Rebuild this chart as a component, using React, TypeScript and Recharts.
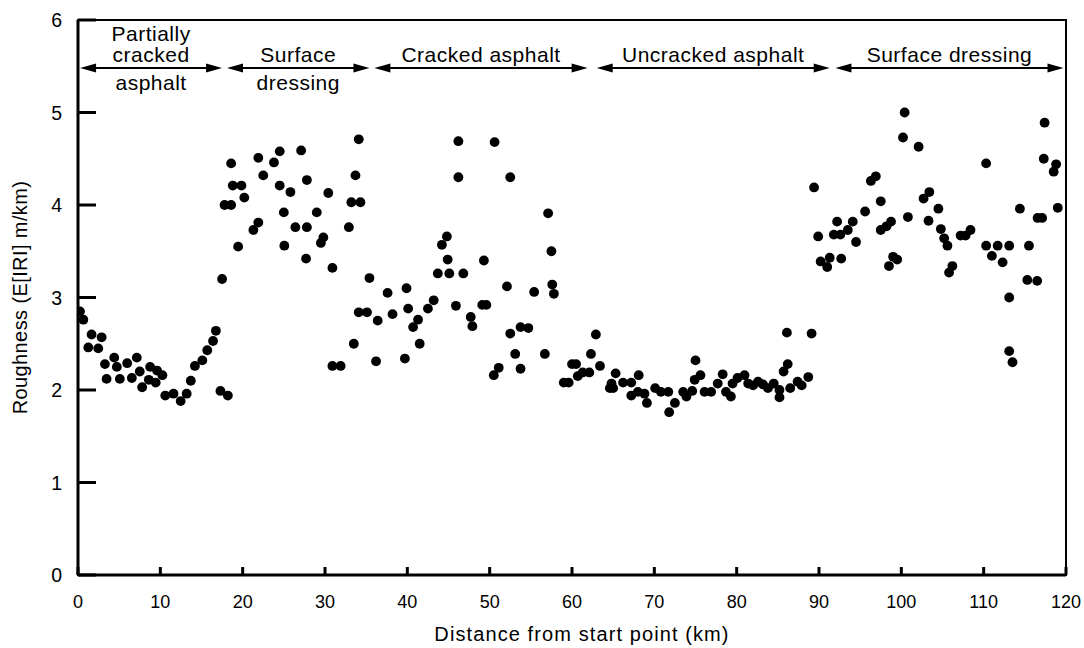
import { ScatterChart, Scatter, XAxis, YAxis, ReferenceLine, ReferenceArea } from "recharts";

// Roughness survey points
const distanceKm = [
  0.24, 0.65, 1.25, 1.65, 2.46, 2.87, 3.27, 3.47, 4.4, 4.72, 5.08, 5.97, 6.54, 7.14, 7.5, 7.79,
  8.6, 8.76, 9.44, 9.6, 10.25, 10.6, 11.6, 12.47, 13.2, 13.7, 14.2, 15.1, 15.7, 16.4, 16.75,
  17.3, 17.5, 17.8, 18.2, 18.6, 18.6, 18.8, 19.45, 19.85, 20.2, 21.3, 21.9, 21.9, 22.5, 23.8,
  24.5, 24.5, 25.0, 25.06, 25.8, 26.4, 27.1, 27.7, 27.8, 27.8, 29.0, 29.5, 29.8, 30.4, 30.9,
  30.9, 31.9, 32.9, 33.2, 33.5, 33.7, 34.1, 34.1, 34.3, 35.1, 35.4,
  36.2, 36.4, 37.6, 38.2, 39.7, 39.9, 40.1, 40.7, 41.3, 41.5, 42.5, 43.2, 43.7, 44.2, 44.8,
  44.9, 45.1, 45.9, 46.2, 46.2, 46.8, 47.7, 47.9, 49.1, 49.3, 49.6, 50.5, 50.6, 51.1, 52.1,
  52.5, 52.5, 53.1, 53.75, 53.75, 54.7, 55.4, 56.7, 57.1, 57.5, 57.6, 57.8, 59.0, 59.6, 60.0,
  60.5, 60.7, 61.3, 62.1, 62.3, 62.9, 63.4, 64.6, 64.8, 65.0, 65.3,
  66.2, 67.2, 67.2, 68.0, 68.1, 68.8, 69.1, 70.1, 70.8, 71.7, 71.8, 72.5, 73.5, 73.9, 74.6,
  74.9, 75.0, 75.6, 76.1, 76.9, 77.7, 78.3, 78.7, 79.3, 79.5, 80.1, 80.95, 81.4, 82.0, 82.6,
  83.2, 83.8, 84.5, 85.2, 85.2, 85.7, 86.1, 86.2, 86.5, 87.4, 87.9, 88.7, 89.1, 89.4, 89.9,
  90.2, 91.0, 91.3, 91.8, 92.2, 92.6, 92.7, 93.5, 94.1, 94.5,
  95.6, 96.3, 96.9, 97.5, 97.5, 98.2, 98.5, 98.75, 99.0, 99.5, 100.2, 100.4, 100.8, 102.1,
  102.7, 103.3, 103.4, 104.5, 104.8, 105.2, 105.6, 105.8, 106.2, 107.2, 107.8, 108.4, 110.3,
  110.3, 111.0, 111.7, 112.3, 113.1, 113.1, 113.1, 113.5, 114.4, 115.3, 115.5, 116.5, 116.55,
  117.1, 117.3, 117.4, 118.5, 118.8, 119.0,
];

const roughness = [
  2.85, 2.76, 2.46, 2.6, 2.45, 2.57, 2.28, 2.12, 2.35, 2.25, 2.12, 2.29, 2.13, 2.35, 2.2, 2.03,
  2.11, 2.25, 2.08, 2.21, 2.16, 1.94, 1.96, 1.88, 1.96, 2.1, 2.26, 2.32, 2.43, 2.53, 2.64,
  1.99, 3.2, 4.0, 1.94, 4.0, 4.45, 4.21, 3.55, 4.21, 4.08, 3.73, 3.81, 4.51, 4.32, 4.46,
  4.58, 4.21, 3.92, 3.56, 4.14, 3.76, 4.59, 3.42, 4.27, 3.76, 3.92, 3.59, 3.65, 4.13, 3.32,
  2.26, 2.26, 3.76, 4.03, 2.5, 4.32, 4.71, 2.84, 4.03, 2.84, 3.21,
  2.31, 2.75, 3.05, 2.82, 2.34, 3.1, 2.88, 2.68, 2.76, 2.5, 2.88, 2.97, 3.26, 3.57, 3.66,
  3.41, 3.26, 2.91, 4.69, 4.3, 3.26, 2.79, 2.69, 2.92, 3.4, 2.92, 2.16, 4.68, 2.24, 3.12,
  4.3, 2.61, 2.39, 2.23, 2.68, 2.67, 3.06, 2.39, 3.91, 3.5, 3.14, 3.04, 2.08, 2.08, 2.28,
  2.28, 2.15, 2.19, 2.19, 2.39, 2.6, 2.26, 2.02, 2.07, 2.02, 2.18,
  2.08, 2.08, 1.94, 1.98, 2.16, 1.96, 1.86, 2.02, 1.98, 1.98, 1.76, 1.86, 1.98, 1.93, 1.99,
  2.11, 2.32, 2.16, 1.98, 1.98, 2.07, 2.17, 1.98, 1.93, 2.07, 2.13, 2.16, 2.07, 2.05, 2.09,
  2.06, 2.02, 2.07, 1.92, 2.0, 2.2, 2.62, 2.28, 2.02, 2.09, 2.05, 2.14, 2.61, 4.19, 3.66,
  3.39, 3.33, 3.43, 3.68, 3.82, 3.68, 3.42, 3.73, 3.82, 3.6,
  3.93, 4.26, 4.31, 4.04, 3.73, 3.77, 3.34, 3.82, 3.44, 3.41, 4.73, 5.0, 3.87, 4.63,
  4.07, 3.83, 4.14, 3.96, 3.74, 3.64, 3.56, 3.27, 3.34, 3.67, 3.67, 3.73, 4.45,
  3.56, 3.45, 3.56, 3.38, 3.56, 3.0, 2.42, 2.3, 3.96, 3.19, 3.56, 3.18, 3.86,
  3.86, 4.5, 4.89, 4.36, 4.44, 3.97,
];

const xTicks = [0, 10, 20, 30, 40, 50, 60, 70, 80, 90, 100, 110, 120];
const yTicks = [0, 1, 2, 3, 4, 5, 6];

// surface type sections shown as double arrows along the top
const sectionStart = [0.25, 18.1, 36.0, 63.0, 92.0];
const sectionEnd = [17.5, 35.4, 61.9, 91.3, 119.7];
const labelsAbove = [["cracked", "Partially"], ["Surface"], ["Cracked asphalt"], ["Uncracked asphalt"], ["Surface dressing"]];
const labelsBelow = [["asphalt"], ["dressing"], [], [], []];
const arrowLevel = 5.48;

const points = distanceKm.map((d, i) => ({ d, r: roughness[i] }));

const FONT = "'Liberation Sans', Arial, Helvetica, sans-serif";

function YTick({ x, y, payload }: any) {
  return (
    <g>
      <line x1={x} x2={x + 18} y1={y} y2={y} stroke="#000" strokeWidth={3} />
      <text x={x - 16} y={y + 7} textAnchor="end" fontSize={19.5} fontFamily={FONT} fill="#000">
        {payload.value}
      </text>
    </g>
  );
}

function XTick({ x, y, payload }: any) {
  return (
    <g>
      <line x1={x} x2={x} y1={y} y2={y - 8} stroke="#000" strokeWidth={3} />
      <text x={x} y={y + 33} textAnchor="middle" fontSize={18} fontFamily={FONT} fill="#000">
        {payload.value}
      </text>
    </g>
  );
}

function sectionArrow(i: number) {
  return (p: any) => {
    const { x1, x2, y1 } = p;
    const cx = (x1 + x2) / 2;
    const head = 16;
    const hw = 4.5;
    const txt = { textAnchor: "middle" as const, fontSize: 21, letterSpacing: 0.5, fontFamily: FONT, fill: "#000" };
    return (
      <g>
        <line x1={x1 + head - 2} x2={x2 - head + 2} y1={y1} y2={y1} stroke="#000" strokeWidth={2} />
        <polygon points={`${x1},${y1} ${x1 + head},${y1 - hw} ${x1 + head},${y1 + hw}`} fill="#000" />
        <polygon points={`${x2},${y1} ${x2 - head},${y1 - hw} ${x2 - head},${y1 + hw}`} fill="#000" />
        {labelsAbove[i].map((t, k) => (
          <text key={"a" + k} x={cx} y={y1 - 6 - k * 21} {...txt}>
            {t}
          </text>
        ))}
        {labelsBelow[i].map((t, k) => (
          <text key={"b" + k} x={cx} y={y1 + 22 + k * 21} {...txt}>
            {t}
          </text>
        ))}
      </g>
    );
  };
}

export default function App() {
  return (
    <div style={{ position: "absolute", left: 0, top: 0, background: "#fff" }}>
      <ScatterChart width={1084} height={648} margin={{ top: 20, right: 18, bottom: 0, left: 0 }}>
        <XAxis
          type="number"
          dataKey="d"
          domain={[0, 120]}
          ticks={xTicks}
          interval={0}
          height={73}
          tickSize={0}
          tickMargin={0}
          tickLine={false}
          tick={<XTick />}
          axisLine={{ stroke: "#000", strokeWidth: 3 }}
          allowDataOverflow
          label={{
            value: "Distance from start point (km)",
            position: "insideBottom",
            offset: 7,
            dx: 10,
            style: { fontSize: 20, letterSpacing: 1.1, fill: "#000", fontFamily: FONT },
          }}
        />
        <YAxis
          type="number"
          dataKey="r"
          domain={[0, 6]}
          ticks={yTicks}
          interval={0}
          width={78}
          tickSize={0}
          tickMargin={0}
          tickLine={false}
          tick={<YTick />}
          axisLine={{ stroke: "#000", strokeWidth: 3 }}
          allowDataOverflow
          label={{
            value: "Roughness (E[IRI] m/km)",
            angle: -90,
            position: "insideLeft",
            offset: 20,
            style: { textAnchor: "middle", fontSize: 20, letterSpacing: 0.4, fill: "#000", fontFamily: FONT },
          }}
        />
        <ReferenceArea x1={0} x2={120} y1={0} y2={6} fill="none" stroke="#000" strokeWidth={2} />
        {sectionStart.map((s, i) => (
          <ReferenceLine
            key={i}
            segment={[
              { x: s, y: arrowLevel },
              { x: sectionEnd[i], y: arrowLevel },
            ]}
            shape={sectionArrow(i)}
          />
        ))}
        <Scatter
          data={points}
          isAnimationActive={false}
          shape={(p: any) => <circle cx={p.cx} cy={p.cy} r={4.9} fill="#000" />}
        />
      </ScatterChart>
    </div>
  );
}
